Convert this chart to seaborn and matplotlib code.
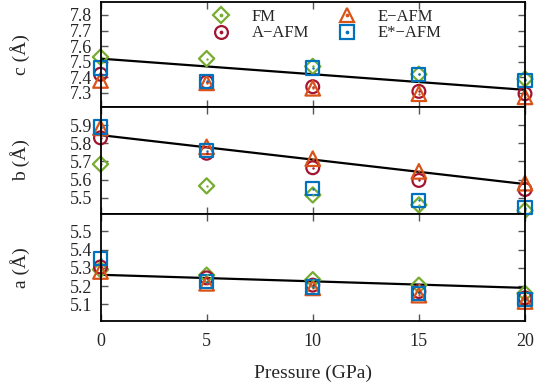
import matplotlib
matplotlib.use("Agg")
import matplotlib.pyplot as plt
from matplotlib.lines import Line2D
import seaborn as sns
import pandas as pd

# ---- data ----
pressure = [0, 5, 10, 15, 20]
labels = ["FM", "A\u2212AFM", "E\u2212AFM", "E*\u2212AFM"]

c_FM = [7.53, 7.52, 7.47, 7.42, 7.39]
c_A = [7.42, 7.37, 7.34, 7.31, 7.295]
c_E = [7.38, 7.365, 7.33, 7.295, 7.275]
c_Es = [7.46, 7.375, 7.46, 7.42, 7.38]

b_FM = [5.685, 5.565, 5.515, 5.46, 5.43]
b_A = [5.83, 5.745, 5.665, 5.595, 5.545]
b_E = [5.885, 5.78, 5.715, 5.645, 5.58]
b_Es = [5.89, 5.76, 5.55, 5.485, 5.445]

a_FM = [5.29, 5.26, 5.235, 5.205, 5.16]
a_A = [5.305, 5.245, 5.205, 5.17, 5.135]
a_E = [5.28, 5.215, 5.19, 5.15, 5.115]
a_Es = [5.35, 5.225, 5.195, 5.16, 5.125]

fit_pressure = [0, 20]
c_fit = [7.52, 7.32]
b_fit = [5.845, 5.575]
a_fit = [5.262, 5.19]

c_ticks = [7.3, 7.4, 7.5, 7.6, 7.7, 7.8]
b_ticks = [5.5, 5.6, 5.7, 5.8, 5.9]
a_ticks = [5.1, 5.2, 5.3, 5.4, 5.5]
x_ticks = [0, 5, 10, 15, 20]

# ---- style ----
sns.set_style("ticks")
plt.rcParams["font.family"] = ["Liberation Serif", "DejaVu Serif"]
plt.rcParams["font.size"] = 13

colors = ["#77ac30", "#a2142f", "#d95319", "#0072bd"]
markers = ["D", "o", "^", "s"]
sizes = [60, 85, 110, 90]

fig = plt.figure(figsize=(5.37, 3.91), dpi=100)
W, H = 537.0, 391.0
left, right = 100.5 / W, 525 / W
panels = [
    (2, 107, "c (\u00c5)", [c_FM, c_A, c_E, c_Es], c_fit, (7.21, 7.883), c_ticks),
    (107, 214, "b (\u00c5)", [b_FM, b_A, b_E, b_Es], b_fit, (5.41, 6.0), b_ticks),
    (214, 321, "a (\u00c5)", [a_FM, a_A, a_E, a_Es], a_fit, (5.008, 5.596), a_ticks),
]

axes = []
for i, (t, b, ylab, series, fit, ylim, yt) in enumerate(panels):
    ax = fig.add_axes([left, 1 - b / H, right - left, (b - t) / H])
    axes.append(ax)
    fit_df = pd.DataFrame({"p": fit_pressure, "v": fit})
    sns.lineplot(data=fit_df, x="p", y="v", ax=ax, color="black", lw=1.6, zorder=2)
    for vals, col, m, s in zip(series, colors, markers, sizes):
        df = pd.DataFrame({"p": pressure, "v": vals})
        sns.scatterplot(data=df, x="p", y="v", ax=ax, marker=m, s=s, color=col,
                        facecolor="none", edgecolor=col, linewidth=1.6,
                        clip_on=False, zorder=3)
        sns.scatterplot(data=df, x="p", y="v", ax=ax, marker="o", s=3, color=col,
                        edgecolor=col, linewidth=0, clip_on=False, zorder=4)
    ax.set_xlim(0, 20)
    ax.set_ylim(*ylim)
    ax.set_yticks(yt)
    ax.set_yticklabels([f"{v:.1f}" for v in yt])
    ax.set_xticks(x_ticks)
    ax.set_ylabel(ylab, fontsize=14)
    ax.yaxis.set_label_coords(-0.165, 0.5)
    ax.tick_params(direction="in", length=5, width=1, color="#555555",
                   top=True, right=True, labelsize=13, pad=6)
    if i < 2:
        ax.set_xlabel("")
        ax.tick_params(labelbottom=False)
    else:
        ax.set_xlabel("Pressure (GPa)", fontsize=14, labelpad=10)
        ax.tick_params(axis="x", pad=9)
    for sp in ax.spines.values():
        sp.set_linewidth(1.3)
        sp.set_color("black")
        sp.set_zorder(5)

# legend
handles = []
for col, m, s in zip(colors, markers, sizes):
    h1 = Line2D([], [], ls="none", marker=m, markersize=s ** 0.5,
                markerfacecolor="none", markeredgecolor=col, markeredgewidth=1.6)
    h2 = Line2D([], [], ls="none", marker="o", markersize=1.7, color=col)
    handles.append((h1, h2))
axes[0].legend(handles, labels, ncol=2, frameon=False, loc="upper left",
               bbox_to_anchor=(197 / W, 1 + 3 / H), bbox_transform=fig.transFigure,
               fontsize=12, handlelength=1.5, handletextpad=1.1, columnspacing=1.5,
               labelspacing=0.05, borderpad=0.2)

fig.savefig("out.png", dpi=100)
